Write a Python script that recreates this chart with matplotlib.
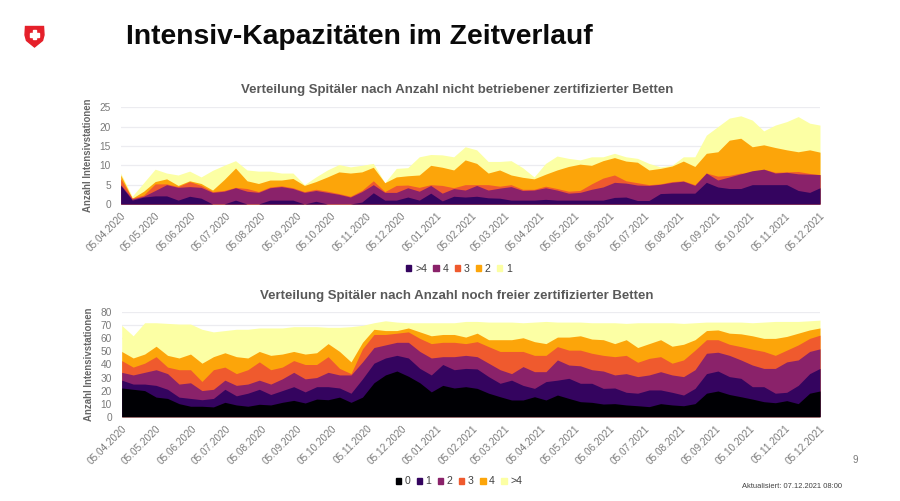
import matplotlib
matplotlib.use("Agg")
import matplotlib.pyplot as plt
from matplotlib.patches import Patch, Polygon, Rectangle
from matplotlib.transforms import ScaledTranslation
import pandas as pd

plt.rcParams['font.family'] = ['Liberation Sans', 'DejaVu Sans']

# sampled every 10 days, last point is the final date of the chart
dates = list(pd.date_range('2020-04-05', periods=61, freq='10D')) + [pd.Timestamp('2021-12-05')]
ticks = list(pd.date_range('2020-04-05', '2021-12-05', freq='MS') + pd.Timedelta(days=4))
if ticks[0] != pd.Timestamp('2020-04-05'):
    ticks = [pd.Timestamp('2020-04-05')] + ticks

# upper edge of each stacked band, top chart
top_1 = [8, 2, 5.5, 9, 8, 7.5, 8.5, 7, 8.7, 10, 11.2, 8.8, 8.5, 8.5, 8, 8, 5, 7, 8.8, 10.2,
         9.6, 10, 10.5, 5.5, 9.2, 9.4, 12.2, 12.8, 12.7, 12.2,
         14.8, 14, 11, 11, 11.2, 9.4, 7, 10.5, 12.4, 11.8, 11.4, 12.2, 12.2, 13.1, 12.2, 11.8,
         10.5, 9.6, 10, 12.2, 12.2, 17.8, 20, 22.2, 22.8, 21.7, 18.9, 20.4, 21.3, 22.6, 20.9, 20.4]
top_2 = [7.5, 1.5, 3.3, 5.8, 6.5, 4.8, 6, 5.3, 3.6, 6.3, 9.3, 6, 5.3, 6.2, 6.2, 6.6, 4.8, 5.8, 7, 8.3,
         8, 8.3, 9.5, 5.5, 7, 7.3, 7.5, 10, 9.5, 8.8,
         11.4, 10.5, 8, 8.8, 7.5, 6.9, 6.5, 7.7, 8.8, 9.7, 10.3, 10, 11.2, 12, 11.1, 10.8,
         8.8, 9.2, 9.8, 11.1, 9.7, 13.1, 13.5, 16.5, 17, 14.8, 15.3, 14.6, 14, 13.5, 14, 13.4]
top_3 = [6.5, 1.5, 2.3, 5.2, 5.2, 4.5, 5.8, 4.8, 3.2, 3.5, 4.3, 4, 3.2, 4.4, 4.7, 4.2, 3.2, 3.8, 3.3, 2.7,
         2, 3.5, 6, 3.2, 4.8, 4.9, 4.3, 5, 4.8, 4.2,
         5, 5, 5, 4.6, 5, 3.8, 3.8, 4.6, 4, 3.3, 3.5, 5.2, 6.7, 7.5, 6, 5.5,
         5, 5.2, 5.8, 6, 5, 8, 7.2, 7.4, 8, 7.8, 9, 8.2, 8.3, 8.4, 7.9, 7.6]
top_4 = [5, 1.3, 2, 3.5, 5, 4.3, 4.5, 4.3, 3, 3.3, 4.2, 3.3, 3, 4.2, 4.5, 4, 3, 3.5, 3, 2.5,
         1.8, 3.2, 5, 3, 3, 4.2, 3.3, 4.8, 2.8, 4,
         3.6, 4.8, 3.6, 4.1, 4.5, 3.5, 3.6, 4.2, 3.6, 2.8, 3, 3.8, 4.4, 5.6, 5.4, 4.9,
         4.8, 5.1, 5.6, 5.9, 4.8, 8, 6.2, 7, 7.8, 8.6, 9, 8, 8.2, 7.8, 7.7, 7.6]
top_gt4 = [4.8, 1, 1.8, 2.1, 2.1, 1, 2, 1.5, 0, 0, 1, 0, 0, 1, 1, 1, 0, 0.7, 0, 0,
           0, 0.5, 2.9, 1, 1, 1.8, 1, 2.8, 0.8, 2,
           1.8, 2, 1.6, 1.5, 1, 1, 1, 1.2, 1, 1, 1, 1, 1, 1.7, 1.8, 0.9,
           0.9, 2.7, 2.8, 2.8, 2.8, 5.6, 4.4, 4, 4, 5, 5, 5, 5, 3.5, 3, 4.2]

# upper edge of each stacked band, bottom chart
free_gt4 = [70, 62, 72, 72, 71.5, 71, 71, 67, 65, 66, 67, 67, 68, 68, 68, 69, 69, 69, 68.5, 68.5,
            69, 70, 72, 73.5, 72.5, 72, 72, 72, 72, 72,
            73, 73, 72.5, 72.5, 72.5, 72, 72.5, 73, 72.5, 72.5, 72.5, 72, 72, 72, 71.5, 72,
            72, 72, 72, 71.5, 72, 72.5, 72.5, 72.5, 72.5, 72, 72.5, 73, 73, 73, 73.5, 74]
free_4 = [50, 45, 48, 54, 47, 45, 48, 41, 46, 49, 46, 45, 50, 47, 48, 50, 48, 49, 56, 50,
          42, 57, 67, 66, 66, 68, 65, 62, 63, 63,
          61, 64, 59, 59, 59, 60.5, 57.5, 56, 61, 61, 62, 59.5, 59, 56, 59, 53,
          56, 59, 54, 55.5, 59, 66, 66.5, 64, 63.5, 62, 60, 60, 61.5, 64, 66.5, 68]
free_3 = [43, 38, 41, 46, 38, 36, 36, 27, 36, 38, 33, 36, 42, 36, 38, 43, 40, 40, 46, 37,
          33, 52, 63, 63, 64, 65, 60, 56, 57, 57,
          56, 57.5, 53.7, 50, 50, 50, 47, 47, 53.7, 51, 51, 48.6, 47, 46, 47, 41.7,
          44.7, 46, 41, 43.5, 51, 59, 59, 55.5, 53.7, 51.7, 50, 47, 51, 55, 60, 62.5]
free_2 = [34, 32, 34, 36, 33, 25, 26, 20, 21, 28, 24, 25, 28, 25, 29, 34, 29, 30, 34, 32,
          32, 42, 53, 55, 57, 57, 50, 45, 46, 46,
          47, 46, 41, 36, 33, 38.4, 34.5, 34.5, 43.5, 39.6, 39, 36, 35, 32, 33, 30.7,
          32, 34.5, 32, 30.7, 36, 48.6, 49.4, 47, 43.5, 39.6, 37, 37, 42, 43.5, 50, 52]
free_1 = [28, 25, 25, 24, 21, 15, 14, 13, 14, 21, 16, 18, 21, 17, 20, 23, 19, 23, 23, 22,
          18, 29, 41, 45, 47, 45, 37, 32, 40, 36,
          37, 36.6, 30.7, 25.6, 28, 24, 21.7, 26.9, 28, 29.4, 25.6, 25.6, 21.7, 22, 18.7, 18,
          20.5, 20.5, 18.7, 16.6, 21.7, 33, 35, 30.7, 29.4, 23, 23, 18, 18.7, 24, 33, 37]
free_0 = [22, 21, 20, 15, 14, 10, 8, 8, 7.5, 11, 9, 8, 9.5, 9, 11, 12.5, 10.5, 13.5, 13, 15,
          11, 15, 26, 32, 35, 31, 26, 19, 24, 22,
          23, 21.7, 18, 15.3, 12.8, 12.8, 15.3, 12.8, 16.6, 14, 11.5, 11, 9.7, 10, 9, 8.4,
          7.7, 10, 9, 8.4, 10, 18, 19.7, 17, 15.3, 13.5, 11.5, 10.7, 12.3, 10, 18, 19.7]

top_bands = [top_1, top_2, top_3, top_4, top_gt4]
top_colors = ['#fcffa4', '#fca50a', '#ef5a2e', '#8a226a', '#34045f']
top_names = ['1', '2', '3', '4', '>4']
free_bands = [free_gt4, free_4, free_3, free_2, free_1, free_0]
free_colors = ['#fcffa4', '#fca50a', '#ef5a2e', '#8a226a', '#34045f', '#000004']
free_names = ['>4', '4', '3', '2', '1', '0']

GREY = '#7a7a7a'
W, H = 900, 501


def px_box(left, top, right, bottom):
    return [left / W, 1 - bottom / H, (right - left) / W, (bottom - top) / H]


def area_chart(box, bands, colors, names, yticks, title, title_y, legend_y, legend_names):
    ax = fig.add_axes(px_box(*box))
    for vals, col in zip(bands, colors):
        ax.fill_between(dates, 0, vals, color=col, lw=0, zorder=2)
    ax.set_xlim(dates[0], dates[-1])
    ax.set_ylim(0, yticks[-1])
    ax.set_yticks(yticks)
    ax.set_xticks(ticks)
    ax.set_xticklabels([t.strftime('%d.%m.%Y') for t in ticks], rotation=45, ha='right',
                       rotation_mode='anchor', fontsize=7.2, color=GREY)
    # labels end a bit left of their date
    shift = ScaledTranslation(-4 / 100, 0, fig.dpi_scale_trans)
    for lab in ax.get_xticklabels():
        lab.set_transform(lab.get_transform() + shift)
    ax.tick_params(axis='x', length=0, pad=5)
    ax.tick_params(axis='y', length=0, pad=7, labelsize=7.3, labelcolor=GREY)
    ax.grid(axis='y', color='#ececf0', lw=0.9, zorder=1)
    for s in ax.spines.values():
        s.set_visible(False)
    ax.set_ylabel('Anzahl Intensivstationen', fontsize=6.9, fontweight='bold', color='#666666', labelpad=5)
    fig.text(457 / W, 1 - title_y / H, title, ha='center', va='center', fontsize=9.5,
             fontweight='bold', color='#595959')
    handles = [Patch(color=colors[names.index(n)], label=n) for n in legend_names]
    fig.legend(handles=handles, loc='center', bbox_to_anchor=(459 / W, 1 - legend_y / H), ncol=len(handles),
               frameon=False, fontsize=7.6, labelcolor='#404040', handlelength=0.5, handleheight=0.5,
               handletextpad=0.35, columnspacing=0.6, borderpad=0)
    return ax


fig = plt.figure(figsize=(9, 5.01), dpi=100)

fig.text(126 / W, 1 - 37.5 / H, 'Intensiv-Kapazitäten im Zeitverlauf', fontsize=20.3, fontweight='bold',
         color='#0a0a0a', va='center', ha='left')

# Swiss shield
logo = fig.add_axes(px_box(24, 24, 46, 48))
logo.set_xlim(0, 22)
logo.set_ylim(24, 0)
logo.axis('off')
logo.add_patch(Polygon([(1.5, 2.5), (19.5, 2.5), (20, 11), (18.5, 16.5), (10.5, 23), (2.5, 16.5), (1, 11)],
                       color='#e5202a'))
logo.add_patch(Rectangle((8.9, 6.5), 3.2, 9, color='white'))
logo.add_patch(Rectangle((6, 9.4), 9, 3.2, color='white'))

area_chart((120.7, 107.3, 820, 204), top_bands, top_colors, top_names, [0, 5, 10, 15, 20, 25],
           'Verteilung Spitäler nach Anzahl nicht betriebener zertifizierter Betten', 89.5, 268.5,
           ['>4', '4', '3', '2', '1'])
area_chart((121.7, 312.3, 820, 416.7), free_bands, free_colors, free_names, [0, 10, 20, 30, 40, 50, 60, 70, 80],
           'Verteilung Spitäler nach Anzahl noch freier zertifizierter Betten', 295.5, 481.5,
           ['0', '1', '2', '3', '4', '>4'])

fig.text(855 / W, 1 - 460 / H, '9', fontsize=7, color=GREY, ha='center', va='center')
fig.text(742 / W, 1 - 487 / H, 'Aktualisiert: 07.12.2021 08:00', fontsize=5.4, color='#404040', ha='left', va='center')

fig.savefig('out.png', dpi=100)
